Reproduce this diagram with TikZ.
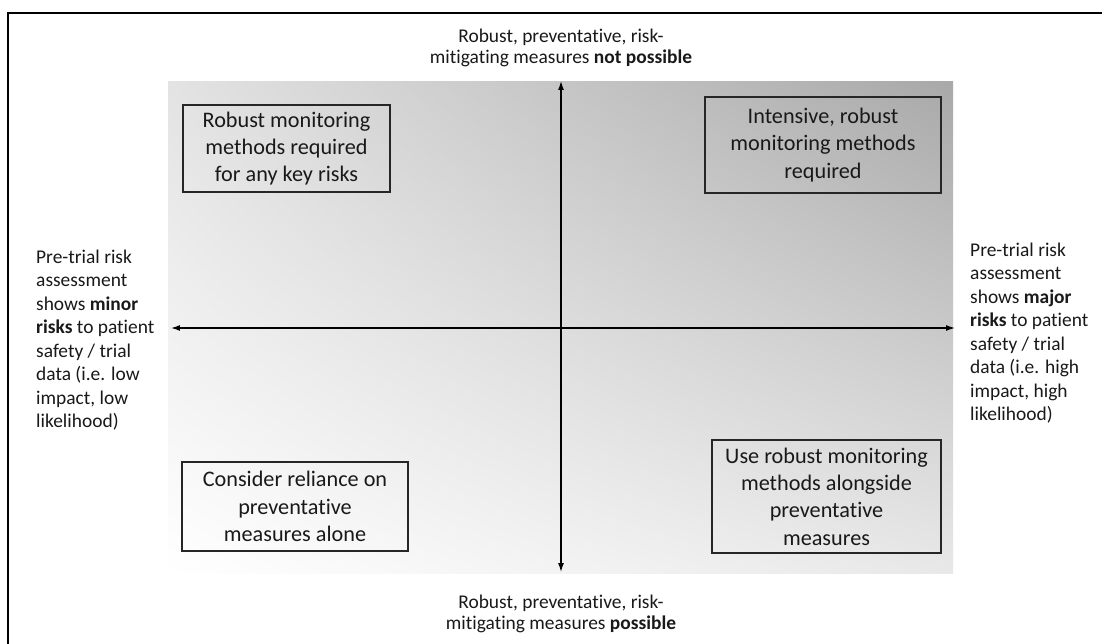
\documentclass[tikz,border=0pt]{standalone}
\usepackage{fontspec}
\setmainfont[Ligatures=NoCommon]{Carlito}
\usetikzlibrary{arrows.meta,shadings}

\tikzset{
  axisline/.style={line width=1.3pt, {Latex[length=9pt,width=6pt]}-{Latex[length=9pt,width=6pt]}},
  quadbox/.style={draw=black!85, line width=1.2pt, align=center, inner sep=0pt,
    font=\fontsize{22.3}{27.5}\selectfont, text=black!90},
  sidetext/.style={align=left, inner sep=0pt, font=\fontsize{19.5}{23.6}\selectfont, text=black!90},
  endtext/.style={align=center, inner sep=0pt, font=\fontsize{19.5}{21.5}\selectfont, text=black!90}
}

\begin{document}
\begin{tikzpicture}[x=1bp,y=-1bp]
\useasboundingbox (0,0) rectangle (1102,644);
\fill[white] (0,0) rectangle (1102,644);
\draw[line width=2.8pt] (8,644)--(8,13)--(1102,13); %%frame

% shaded field
\shade[lower left=white, upper left=black!11, upper right=black!34, lower right=black!9]
  (168,573) rectangle (953,82);

\coordinate (N) at (561,81);
\coordinate (S) at (561,572);
\coordinate (W) at (171,328);
\coordinate (E) at (955,328);
\draw[axisline] (S) -- (N);
\draw[axisline] (W) -- (E);

\node[endtext] (top) at (561,48) {Robust, preventative, risk-\\mitigating measures \textbf{not possible}};
\node[endtext] (bottom) at (561,614) {Robust, preventative, risk-\\mitigating measures \textbf{possible}};

\node[sidetext, anchor=west] (minor) at (36,340) {Pre-trial risk\\assessment\\shows \textbf{minor}\\\textbf{risks} to patient\\safety / trial\\data (i.e. low\\impact, low\\likelihood)};
\node[sidetext, anchor=west] (major) at (970,333) {Pre-trial risk\\assessment\\shows \textbf{major}\\\textbf{risks} to patient\\safety / trial\\data (i.e. high\\impact, high\\likelihood)};

\node[quadbox, minimum width=207bp, minimum height=87bp] (tl) at (286.5,148.5) {Robust monitoring\\methods required\\for any key risks};
\node[quadbox, minimum width=236bp, minimum height=96bp] (tr) at (823,145) {Intensive, robust\\monitoring methods\\required};
\node[quadbox, minimum width=226bp, minimum height=89bp] (bl) at (295,506.5) {Consider reliance on\\preventative\\measures alone};
\node[quadbox, minimum width=229bp, minimum height=113bp] (br) at (826.5,496.5) {Use robust monitoring\\methods alongside\\preventative\\measures};
\end{tikzpicture}
\end{document}
